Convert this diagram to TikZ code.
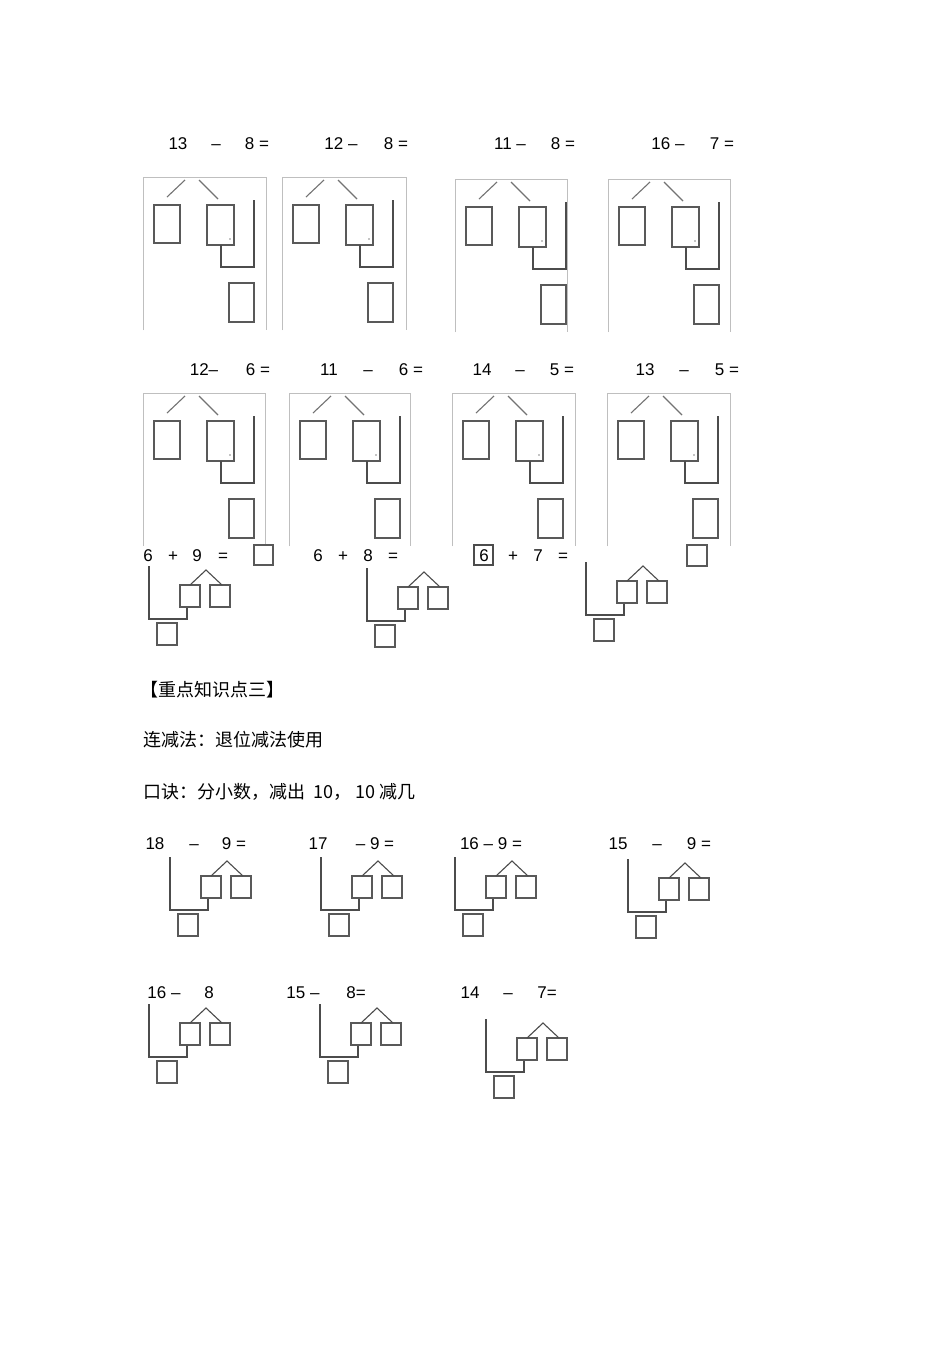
\documentclass[tikz,border=0pt]{standalone}
\usepackage{fontspec}
\setmainfont{Liberation Sans}
\newfontfamily\cjk{Noto Sans CJK SC}
\begin{document}
\begin{tikzpicture}[x=1pt,y=-1pt,
  lbl/.style={inner sep=0pt,anchor=base,yshift=-6.5pt,font=\fontsize{17}{17}\selectfont},
  cn/.style={inner sep=0pt,anchor=west,font=\cjk\fontsize{18}{18}\selectfont},
  bx/.style={draw=black!65,line width=1.3pt},
  ln/.style={draw=black!70,line width=1.1pt},
  fr/.style={draw=black!25,line width=0.8pt}]
\useasboundingbox (0,0) rectangle (950,1345);
\fill[white] (0,0) rectangle (950,1345);
\newcommand{\vblk}[4]{% name x y w
  \draw[fr] (#2,#3+153) -- (#2,#3) -- (#2+#4,#3) -- (#2+#4,#3+153);
  \draw[bx] (#2+11,#3+28) rectangle (#2+37,#3+66);
  \draw[bx] (#2+64,#3+28) rectangle (#2+91,#3+68);
  \draw[ln] (#2+111,#3+23) -- (#2+111,#3+90) -- (#2+78,#3+90) -- (#2+78,#3+68);
  \draw[bx] (#2+86,#3+106) rectangle (#2+111,#3+145);
  \draw[ln,black!55] (#2+24,#3+20) -- (#2+42,#3+3);
  \draw[ln,black!55] (#2+56,#3+3) -- (#2+75,#3+22);
  \fill (#2+87,#3+62) circle (0.6);
  \coordinate (#1) at (#2,#3);}
\newcommand{\tree}[3]{% name xv ytop
  \draw[ln] (#2,#3) -- (#2,#3+53) -- (#2+38,#3+53) -- (#2+38,#3+42);
  \draw[bx] (#2+31,#3+19) rectangle (#2+51,#3+41);
  \draw[bx] (#2+61,#3+19) rectangle (#2+81,#3+41);
  \draw[ln] (#2+41,#3+19) -- (#2+57,#3+4) -- (#2+73,#3+19);
  \draw[bx] (#2+8,#3+57) rectangle (#2+28,#3+79);
  \coordinate (#1) at (#2,#3);}
% row 1
\node[lbl] (a1) at (178,143) {13}; \node[lbl] (a2) at (216,143) {–}; \node[lbl] (a3) at (257,143) {8 =};
\node[lbl] (b1) at (341,143) {12 –}; \node[lbl] (b2) at (396,143) {8 =};
\node[lbl] (c1) at (510,143) {11 –}; \node[lbl] (c2) at (563,143) {8 =};
\node[lbl] (d1) at (668,143) {16 –}; \node[lbl] (d2) at (722,143) {7 =};
\vblk{v1}{143}{177}{123}\vblk{v2}{282}{177}{124}\vblk{v3}{455}{179}{112}\vblk{v4}{608}{179}{122}
% row 2
\node[lbl] (e1) at (204,369) {12–}; \node[lbl] (e2) at (258,369) {6 =};
\node[lbl] (f1) at (329,369) {11}; \node[lbl] (f2) at (368,369) {–}; \node[lbl] (f3) at (411,369) {6 =};
\node[lbl] (g1) at (482,369) {14}; \node[lbl] (g2) at (520,369) {–}; \node[lbl] (g3) at (562,369) {5 =};
\node[lbl] (h1) at (645,369) {13}; \node[lbl] (h2) at (684,369) {–}; \node[lbl] (h3) at (727,369) {5 =};
\vblk{w1}{143}{393}{122}\vblk{w2}{289}{393}{121}\vblk{w3}{452}{393}{123}\vblk{w4}{607}{393}{123}
% addition row
\node[lbl] (p1) at (148,555) {6}; \node[lbl] (p2) at (173,555) {+}; \node[lbl] (p3) at (197,555) {9}; \node[lbl] (p4) at (223,555) {=};
\draw[bx] (254,545) rectangle (273,565);
\node[lbl] (q1) at (318,555) {6}; \node[lbl] (q2) at (343,555) {+}; \node[lbl] (q3) at (368,555) {8}; \node[lbl] (q4) at (393,555) {=};
\node[lbl] (r1) at (484,555) {6}; \draw[ln] (474,545) rectangle (493,565);
\node[lbl] (r2) at (513,555) {+}; \node[lbl] (r3) at (538,555) {7}; \node[lbl] (r4) at (563,555) {=};
\draw[bx] (687,545) rectangle (707,566);
\tree{t1}{149}{566}\tree{t2}{367}{568}\tree{t3}{586}{562}
% Chinese text
\node[cn] (k1) at (140,690) {【重点知识点三】};
\node[cn] (k2) at (143,740) {连减法：退位减法使用};
\node[cn] (k3) at (143,792) {口诀：分小数，减出\ \ 10，\ 10 减几};
% lower row 1
\node[lbl] (m1) at (155,843) {18}; \node[lbl] (m2) at (194,843) {–}; \node[lbl] (m3) at (234,843) {9 =};
\node[lbl] (n1) at (318,843) {17}; \node[lbl] (n2) at (375,843) {– 9 =};
\node[lbl] (o1) at (491,843) {16 – 9 =};
\node[lbl] (s1) at (618,843) {15}; \node[lbl] (s2) at (657,843) {–}; \node[lbl] (s3) at (699,843) {9 =};
\tree{u1}{170}{857}\tree{u2}{321}{857}\tree{u3}{455}{857}\tree{u4}{628}{859}
% lower row 2
\node[lbl] (x1) at (164,992) {16 –}; \node[lbl] (x2) at (209,992) {8};
\node[lbl] (y1) at (303,992) {15 –}; \node[lbl] (y2) at (356,992) {8=};
\node[lbl] (z1) at (470,992) {14}; \node[lbl] (z2) at (508,992) {–}; \node[lbl] (z3) at (547,992) {7=};
\tree{u5}{149}{1004}\tree{u6}{320}{1004}\tree{u7}{486}{1019}
\end{tikzpicture}
\end{document}
